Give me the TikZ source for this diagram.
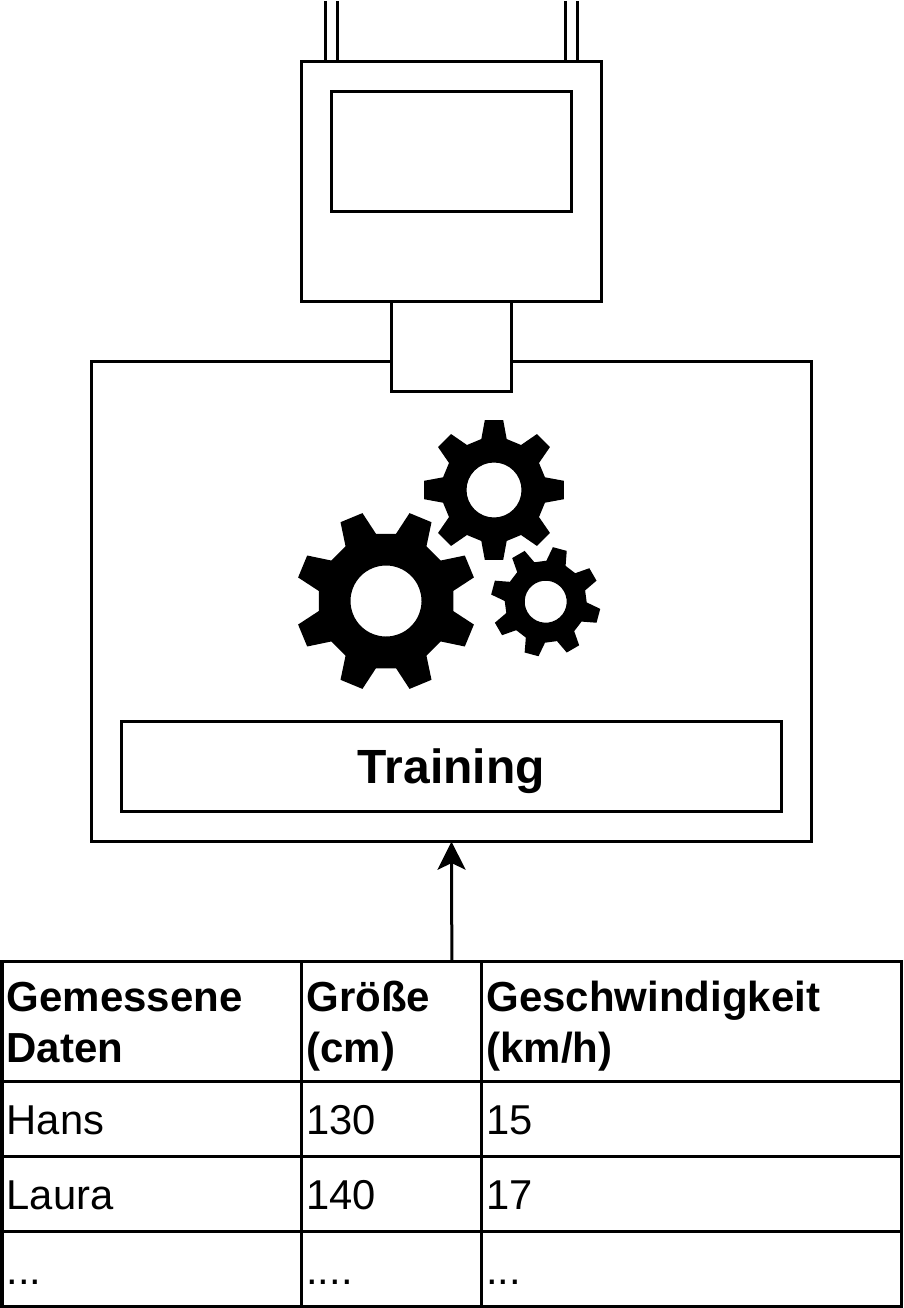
\documentclass[tikz,border=0pt]{standalone}
\usepackage{fontspec}
\setmainfont{Liberation Sans}
\usetikzlibrary{arrows.meta,positioning}
\tikzset{
  box/.style={draw,line width=2.25pt,fill=white,inner sep=0pt,outer sep=0pt},
  datacell/.style 2 args={draw,line width=2.25pt,anchor=north west,inner xsep=3.5pt,inner ysep=0pt,outer sep=0pt,
    minimum height=#2*0.75pt,minimum width=#1*0.75pt,text width=#1*0.75pt-7pt,align=left,
    font=\fontsize{31.3}{38.25}\selectfont,
    execute at begin node={\rule{0pt}{30.2pt}},execute at end node={\rule[-6.7pt]{0pt}{6.7pt}}},
  headcell/.style={font=\fontsize{31.5}{38.25}\selectfont\bfseries},
  trainbox/.style={box,font=\fontsize{36}{42}\selectfont\bfseries,
    execute at begin node={\rule[-8pt]{0pt}{41.8pt}}},
  gearshape/.style={fill=black,even odd rule},
}
% tip, root, hole radius, rotation
\newcommand{\cogwheel}[6]{%
\fill[gearshape,shift={(#1,#2)},rotate=#6]
  (-14:#4) \foreach \a in {0,45,...,315}{ -- (\a-14:#4) -- (\a-7.5:#3) -- (\a+7.5:#3) -- (\a+14:#4)} -- cycle
  (0,0) circle[x radius=#5,y radius=#5];
}
\begin{document}
\begin{tikzpicture}[x=0.75pt,y=-0.75pt]
\useasboundingbox (0,0) rectangle (903,1308);
\coordinate (p1) at (325.5,1);
\coordinate (p2) at (337.5,1);
\coordinate (p3) at (565.5,1);
\coordinate (p4) at (577.5,1);
\node[box,minimum width=225.4pt,minimum height=180pt] (device) at (451.5,181.7) {};
\node[box,minimum width=180pt,minimum height=90pt] (screen) at (451.5,151.7) {};
\draw[line width=2.25pt] (p1)--(p1|-device.north);
\draw[line width=2.25pt] (p2)--(p2|-device.north);
\draw[line width=2.25pt] (p3)--(p3|-device.north);
\draw[line width=2.25pt] (p4)--(p4|-device.north);
\node[box,minimum width=540pt,minimum height=360pt] (model) at (451.5,601.7) {};
\node[box,minimum width=90pt,minimum height=67.5pt] (plug) at (451.5,346.7) {};
\node[trainbox,minimum width=495.4pt,minimum height=67.5pt] (training) at (451.3,766.5) {Training};
\cogwheel{386}{601}{91}{68}{35.5}{22.5}
\cogwheel{494}{490}{70.5}{52.5}{27.5}{0}
\cogwheel{545.7}{601.7}{55}{41}{21}{30}
\node[datacell={299.7}{120},headcell] (name0) at (2,961.7) {Gemessene Daten};
\node[datacell={180}{120},headcell] (size0) at (301.7,961.7) {Größe (cm)};
\node[datacell={420}{120},headcell] (speed0) at (481.7,961.7) {Geschwindigkeit (km/h)};
\node[datacell={299.7}{75}] (name1) at (2,1081.7) {Hans};
\node[datacell={180}{75}] (size1) at (301.7,1081.7) {130};
\node[datacell={420}{75}] (speed1) at (481.7,1081.7) {15};
\node[datacell={299.7}{75}] (name2) at (2,1156.7) {Laura};
\node[datacell={180}{75}] (size2) at (301.7,1156.7) {140};
\node[datacell={420}{75}] (speed2) at (481.7,1156.7) {17};
\node[datacell={299.7}{74.3}] (name3) at (2,1231.7) {...};
\node[datacell={180}{74.3}] (size3) at (301.7,1231.7) {....};
\node[datacell={420}{74.3}] (speed3) at (481.7,1231.7) {...};
\node[box,fill=none,minimum width=674.8pt,minimum height=258.2pt] (table) at (451.85,1133.85) {};
\draw[line width=2.25pt,-{Stealth[length=21pt,width=21pt,inset=5pt]}] (table.north)--(model.south);
\end{tikzpicture}
\end{document}
